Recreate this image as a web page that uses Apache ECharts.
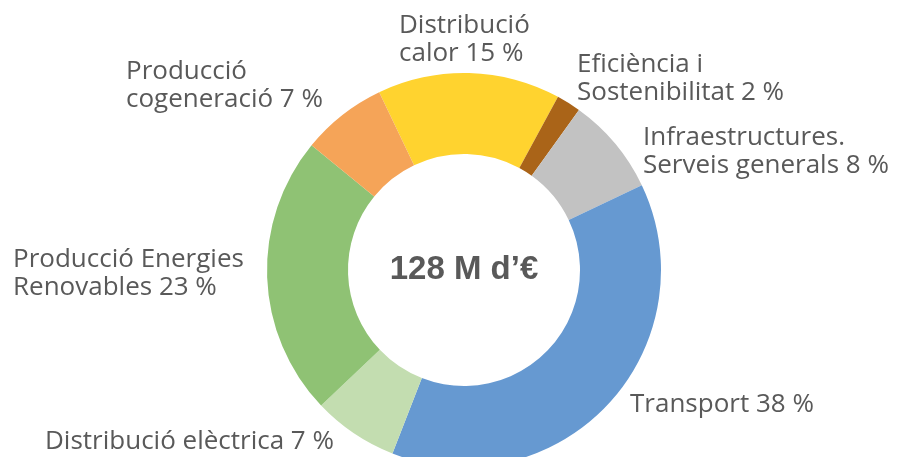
<!DOCTYPE html>
<html lang='ca'>
<head>
  <meta charset='UTF-8'>
  <title>Inversió</title>
  <script src="https://cdn.jsdelivr.net/npm/echarts@6/dist/echarts.min.js"></script>
  <style>
    html, body { margin: 0; padding: 0; background: #fff; }
  </style>
</head>
<body>
<div id="main" style="width: 907px; height: 457px;"></div>
<script>
  // slices, clockwise starting from the yellow one
  const names = ['Distribució\ncalor', 'Eficiència i\nSostenibilitat', 'Infraestructures.\nServeis generals',
    'Transport', 'Distribució elèctrica', 'Producció Energies\nRenovables', 'Producció\ncogeneració']
  const values = [15, 2, 8, 38, 7, 23, 7]
  const colors = ['#FFD32F', '#AA6418', '#C2C2C2', '#6699D1', '#C3DDB0', '#8FC274', '#F5A458']
  const total = '128 M d’€'

  // top-left of each label block
  const labelPos = [[399, 12], [577, 51], [643, 124], [630, 391], [45, 428], [13, 246], [126, 58]]

  const data = names.map((name, i) => ({ name, value: values[i], itemStyle: { color: colors[i] } }))

  var myChart = echarts.init(document.getElementById('main'))
  var option = {
    animation: false,
    graphic: [{
      type: 'text',
      x: 464,
      y: 270,
      style: {
        text: total,
        font: 'bold 33px "Liberation Sans"',
        fill: '#595959',
        textAlign: 'center',
        textVerticalAlign: 'middle'
      }
    }],
    series: [
      {
        type: 'pie',
        center: [464, 270],
        radius: [116, 197],
        startAngle: 115.5,
        avoidLabelOverlap: false,
        itemStyle: { borderWidth: 0 },
        label: {
          show: true,
          position: 'outside',
          formatter: '{b} {c} %',
          color: '#595959',
          fontFamily: 'Open Sans',
          fontWeight: 'normal',
          fontSize: 26,
          lineHeight: 28
        },
        labelLine: { show: false },
        labelLayout: function (params) {
          const p = labelPos[params.dataIndex]
          return { x: p[0], y: p[1], align: 'left', verticalAlign: 'top' }
        },
        data
      }
    ]
  }
  myChart.setOption(option)
</script>
</body>
</html>
